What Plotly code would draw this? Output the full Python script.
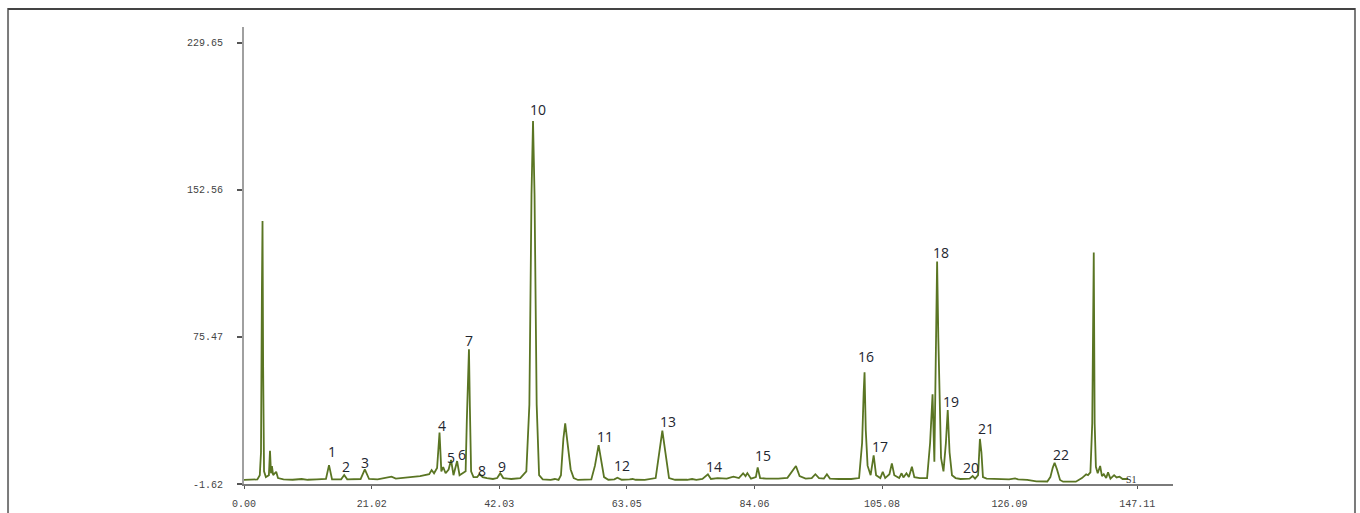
import plotly.graph_objects as go

# Retention time (min) and detector response
time_min = [
    0.0, 2.2, 2.6, 2.8, 2.95, 3.05, 3.15, 3.3, 3.6, 4.1, 4.28, 4.45, 4.6, 4.8, 5.3, 5.6,
    6.5, 8.0, 9.5, 10.5, 12.0, 13.5, 14.0, 14.5, 16.0, 16.5, 17.0, 19.2, 19.9, 20.6,
    22.0, 23.5, 24.3, 25.0, 27.0, 29.0, 30.5, 30.9, 31.3, 31.8, 32.2, 32.5, 32.8, 33.2,
    33.7, 34.1, 34.5, 35.1, 35.5, 36.5, 36.7, 36.95, 37.05, 37.2, 37.4, 37.8, 38.4, 38.8,
    39.3, 40.0, 41.0, 41.7, 42.2, 42.7, 44.0, 45.5, 46.5, 47.0, 47.35, 47.6, 47.85, 48.2,
    48.6, 49.2, 50.5, 51.2, 51.8, 52.2, 52.6, 52.9, 53.3, 53.8, 54.3, 55.0, 57.2, 57.8,
    58.4, 58.8, 59.3, 60.0, 61.0, 61.5, 62.2, 63.5, 64.0, 64.5, 66.0, 67.8, 68.4, 68.9,
    69.4, 70.0, 71.0, 73.0, 73.8, 74.5, 75.5, 76.4, 76.9, 78.0, 79.5, 80.6, 81.5, 82.2,
    82.6, 82.9, 83.5, 84.3, 84.6, 85.0, 86.0, 88.0, 89.5, 90.3, 90.9, 91.5, 92.5, 93.5,
    94.1, 94.7, 95.5, 96.0, 96.5, 98.0, 100.0, 101.3, 101.8, 102.05, 102.2, 102.4, 102.7,
    103.2, 103.7, 104.1, 104.8, 105.2, 105.6, 106.3, 106.7, 107.1, 107.9, 108.3, 108.6,
    109.1, 109.5, 110.0, 110.4, 111.3, 112.5, 113.0, 113.4, 113.7, 113.95, 114.15, 114.35,
    114.55, 114.8, 115.2, 115.6, 115.9, 116.2, 116.6, 117.2, 118.0, 119.5, 120.0, 120.4,
    120.9, 121.2, 121.45, 121.7, 122.3, 124.0, 126.0, 127.0, 127.5, 129.0, 130.5, 132.3,
    132.8, 133.2, 133.5, 133.9, 134.4, 134.9, 137.0, 138.0, 138.7, 139.0, 139.4, 139.7,
    139.85, 139.95, 140.1, 140.3, 140.6, 141.0, 141.3, 141.6, 142.0, 142.3, 142.7, 143.3,
    143.7, 144.2, 144.7, 145.6,
]
response = [
    0.5, 0.8, 3.0, 15.0, 100.0, 136.3, 60.0, 5.0, 2.0, 3.0, 15.8, 4.0, 7.8, 3.0, 4.8, 1.5,
    0.8, 0.6, 1.0, 0.6, 0.8, 1.0, 8.3, 0.8, 0.8, 3.1, 0.8, 1.0, 6.1, 1.0,
    0.8, 1.5, 2.2, 1.2, 1.8, 2.5, 3.5, 5.7, 4.0, 6.8, 25.3, 5.0, 7.3, 4.0,
    6.0, 11.0, 3.0, 10.4, 3.0, 5.0, 32.0, 55.0, 69.0, 38.8, 5.0, 2.0, 2.0, 3.6,
    2.0, 1.5, 1.0, 1.5, 4.0, 1.5, 1.0, 1.5, 5.0, 40.0, 150.0, 188.7, 150.0, 40.0,
    3.0, 0.8, 0.5, 1.0, 0.5, 3.0, 22.0, 30.2, 20.0, 6.0, 1.5, 0.5, 0.8, 8.0,
    18.8, 12.0, 2.0, 0.6, 0.8, 1.7, 0.6, 0.8, 1.0, 0.6, 0.5, 1.5, 15.0, 26.3,
    15.0, 1.5, 0.6, 0.6, 1.0, 0.6, 1.0, 3.5, 1.0, 1.5, 1.2, 2.2, 1.5, 4.0,
    2.5, 4.1, 1.2, 2.0, 7.1, 1.5, 1.2, 1.2, 1.6, 5.0, 7.8, 2.5, 1.2, 1.5,
    3.5, 1.5, 1.2, 3.5, 1.2, 1.0, 1.0, 1.5, 20.0, 46.0, 56.9, 26.7, 8.0,
    3.0, 13.4, 3.0, 1.5, 4.8, 1.5, 3.5, 9.2, 3.0, 1.5, 4.0, 1.8,
    4.0, 2.0, 7.4, 2.0, 1.5, 1.5, 20.0, 45.4, 10.0, 60.0, 115.0, 75.0,
    39.0, 12.0, 5.0, 20.0, 37.2, 15.0, 3.0, 1.5, 1.0, 1.2, 2.6, 1.2,
    3.0, 22.0, 15.0, 2.0, 1.2, 1.0, 0.8, 1.3, 0.8, 0.5, -0.2, -0.3,
    2.0, 7.0, 9.5, 6.0, 0.5, -0.4, -0.4, 1.5, 3.5, 3.0, 4.5, 30.2,
    70.0, 119.7, 30.0, 7.4, 4.0, 7.8, 2.5, 3.5, 1.5, 4.5, 1.2, 3.0,
    1.8, 2.2, 1.0, 1.0,
]

# Peak labels and their positions
peak_labels = [str(i) for i in range(1, 23)]
label_time = [14.5, 16.8, 19.9, 32.6, 34.1, 35.9, 37.1, 39.2, 42.5, 48.4, 59.5, 62.3,
              69.9, 77.4, 85.4, 102.5, 104.8, 114.8, 116.5, 119.8, 122.2, 134.6]
label_value = [15.2, 7.8, 9.9, 29.3, 12.5, 14.1, 73.4, 5.7, 7.8, 195.0, 23.5, 8.3,
               30.9, 7.3, 13.1, 65.0, 18.3, 120.0, 41.9, 6.8, 27.7, 13.6]
end_label = "S1"
end_label_time = 146.1
end_label_value = 1.0

# Axis ticks
x_ticks = [0.00, 21.02, 42.03, 63.05, 84.06, 105.08, 126.09, 147.11]
y_ticks = [-1.62, 75.47, 152.56, 229.65]

fig = go.Figure()
fig.add_trace(go.Scatter(
    x=time_min, y=response, mode="lines",
    line=dict(color="#5a7523", width=1.8),
    hoverinfo="x+y", showlegend=False,
))

annotations = []
for lab, t, v in zip(peak_labels, label_time, label_value):
    annotations.append(dict(
        x=t, y=v, text=lab, showarrow=False, xanchor="center", yanchor="middle",
        font=dict(family="Open Sans", size=14, color="#22262f"),
    ))
annotations.append(dict(
    x=end_label_time, y=end_label_value, text=end_label, showarrow=False,
    xanchor="center", yanchor="middle",
    font=dict(family="Liberation Serif", size=10, color="#333333"),
))

tick_font = dict(family="Liberation Mono", size=10, color="#444444")

fig.update_layout(
    width=1360, height=513,
    margin=dict(l=244, r=187, t=27, b=29, autoexpand=False),
    paper_bgcolor="white", plot_bgcolor="white",
    annotations=annotations,
    shapes=[
        dict(type="rect", xref="paper", yref="paper",
             x0=-0.254, x1=1.1959, y0=-0.09, y1=1.0394,
             line=dict(color="#7a7a7a", width=2), fillcolor="rgba(0,0,0,0)", layer="below"),
        dict(type="line", xref="paper", yref="paper",
             x0=-0.254, x1=1.1959, y0=1.0394, y1=1.0394,
             line=dict(color="#333333", width=1.5), layer="below"),
    ],
    xaxis=dict(
        range=[0, 153], tickmode="array", tickvals=x_ticks,
        ticktext=[f"{v:.2f}" for v in x_ticks], automargin=False,
        showgrid=False, zeroline=False, showline=True, linecolor="#7a7a7a", linewidth=2,
        ticks="outside", ticklen=3, tickcolor="#555555", tickwidth=1,
        tickfont=tick_font, ticklabelstandoff=6,
    ),
    yaxis=dict(
        range=[-1.62, 238], tickmode="array", tickvals=y_ticks,
        ticktext=[f"{v:.2f}" for v in y_ticks], automargin=False,
        showgrid=False, zeroline=False, showline=True, linecolor="#a0a0a0", linewidth=2,
        ticks="outside", ticklen=5, tickcolor="#555555", tickwidth=1.5,
        tickfont=tick_font, ticklabelstandoff=12,
    ),
)

fig.write_html(
    "out.html",
    config={"displayModeBar": False},
    post_script="document.body.style.margin='0';document.body.style.overflow='hidden';",
)
